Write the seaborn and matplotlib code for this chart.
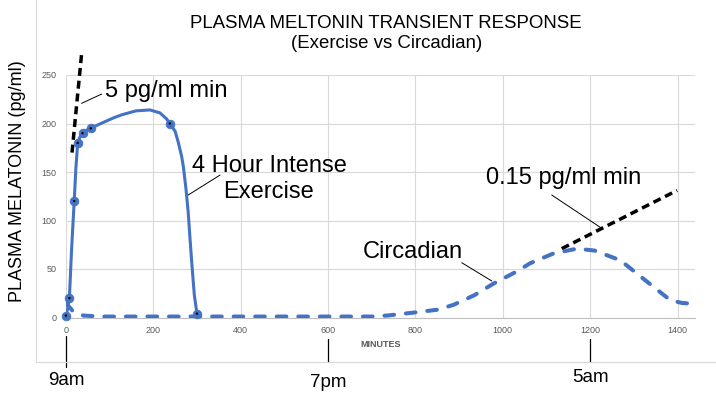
import matplotlib
matplotlib.use("Agg")
import matplotlib.pyplot as plt
import seaborn as sns
import pandas as pd
from matplotlib.lines import Line2D

# exercise response: points read along the smoothed curve, and the marked samples
ex_curve_x = [0, 4, 8, 13, 19, 23, 27, 32, 38, 47, 57, 75, 90, 110, 128, 160, 192, 215, 230, 238,
              250, 257, 265, 269, 275, 280, 284, 288, 294, 300]
ex_curve_y = [2, 9, 20, 70, 120, 155, 180, 186, 190, 193, 195, 199, 202, 206, 209, 213, 214, 211, 205, 200,
              192, 181, 166, 155, 132, 108, 82, 57, 23, 4]
ex_mark_x = [0, 8, 19, 27, 38, 57, 238, 300]
ex_mark_y = [2, 20, 120, 180, 190, 195, 200, 4]

# circadian response
circ_x = [0, 15, 40, 80, 200, 400, 600, 700, 735, 795, 850, 887, 935, 979, 1030, 1063, 1116, 1170, 1210, 1269, 1330, 1383, 1410, 1440]
circ_y = [15, 7, 2, 1, 1, 1, 1, 1, 2, 5, 8, 13, 23, 35, 47, 56, 66, 71, 69, 59, 37, 18, 15, 14]

# slope lines
fast_x = [14, 36]
fast_y = [170, 272]
slow_x = [1135, 1399]
slow_y = [71, 131]

# clock labels below the minutes axis
clock_min = [0, 600, 1200]
clock_lbl = ["9am", "7pm", "5am"]

BLUE = "#4472C4"
GRID = "#d9d9d9"
TICK = "#595959"

sns.set_style("white")
plt.rcParams["font.family"] = ["Liberation Sans", "DejaVu Sans"]
plt.rcParams["text.color"] = "black"

fig = plt.figure(figsize=(7.16, 3.96), dpi=100)
ax = fig.add_axes([65.9 / 716, 78.5 / 396, (695 - 65.9) / 716, 242.5 / 396])

ex_curve = pd.DataFrame({"min": ex_curve_x, "val": ex_curve_y})
ex_mark = pd.DataFrame({"min": ex_mark_x, "val": ex_mark_y})
circ = pd.DataFrame({"min": circ_x, "val": circ_y})

# black slope lines
sns.lineplot(x=fast_x, y=fast_y, ax=ax, color="black", lw=2.5,
             linestyle=(0, (2.3, 1.4)), clip_on=False, zorder=2)
sns.lineplot(x=slow_x, y=slow_y, ax=ax, color="black", lw=2.5,
             linestyle=(0, (2.3, 1.4)), clip_on=False, zorder=2)

# circadian dashed curve
sns.lineplot(data=circ, x="min", y="val", ax=ax, color=BLUE, lw=2.9,
             linestyle=(0, (2.4, 2.95)), dash_capstyle="round", zorder=3)

# exercise curve with markers
sns.lineplot(data=ex_curve, x="min", y="val", ax=ax, color=BLUE, lw=2.2,
             solid_capstyle="round", solid_joinstyle="round", zorder=4)
sns.scatterplot(data=ex_mark, x="min", y="val", ax=ax, color=BLUE, s=40,
                edgecolor=BLUE, zorder=5, clip_on=False)
sns.scatterplot(data=ex_mark, x="min", y="val", ax=ax, color="black", s=3,
                edgecolor="none", zorder=6, clip_on=False)

ax.set_xlim(0, 1440)
ax.set_ylim(0, 250)
ax.set_xticks(range(0, 1401, 200))
ax.set_yticks(range(0, 251, 50))
ax.tick_params(length=0, labelsize=6.5, colors=TICK)
ax.tick_params(axis="y", pad=6.6)
ax.tick_params(axis="x", pad=6.3)
ax.grid(True, color=GRID, lw=0.8)
for s in ["top", "right", "left"]:
    ax.spines[s].set_visible(False)
ax.spines["bottom"].set_color("#bfbfbf")
ax.spines["bottom"].set_linewidth(0.8)
ax.set_ylabel("")
ax.set_xlabel("MINUTES", fontsize=6.5, color=TICK, fontweight="bold", labelpad=3.5)

# clock ticks and labels
xt = ax.get_xaxis_transform()
tick_top = [-0.0763, -0.0887, -0.0887]
tick_bot = [-0.204, -0.1835, -0.1835]
lbl_y = [-0.258, -0.266, -0.249]
for m, lab, t0, t1, ly in zip(clock_min, clock_lbl, tick_top, tick_bot, lbl_y):
    ax.plot([m, m], [t0, t1], transform=xt, color="black", lw=0.9, clip_on=False)
    ax.text(m, ly, lab, transform=xt, ha="center", va="center", fontsize=13.5)

# annotations
ann = dict(fontsize=17, clip_on=False)
ax.text(89.5, 227.3, "5 pg/ml min", ha="left", va="baseline", **ann)
ax.plot([36, 82], [220.8, 230.4], color="black", lw=0.7, clip_on=False)
ax.text(465, 150.3, "4 Hour Intense", ha="center", va="baseline", **ann)
ax.text(463, 123.2, "Exercise", ha="center", va="baseline", **ann)
ax.plot([280, 353], [126.3, 146.9], color="black", lw=0.7)
ax.text(793, 61, "Circadian", ha="center", va="baseline", **ann)
ax.plot([906, 975], [56.5, 37.6], color="black", lw=0.7)
ax.text(1140, 137.3, "0.15 pg/ml min", ha="center", va="baseline", **ann)
ax.plot([1112, 1223], [126.3, 93], color="black", lw=0.7)

# titles and y label
fig.text(386 / 716, (396 - 28.3) / 396, "PLASMA MELTONIN TRANSIENT RESPONSE",
         ha="center", va="baseline", fontsize=13.4)
fig.text(387 / 716, (396 - 48.3) / 396, "(Exercise vs Circadian)",
         ha="center", va="baseline", fontsize=13.4)
fig.text(18 / 716, (396 - 181) / 396, "PLASMA MELATONIN (pg/ml)",
         rotation=90, ha="center", va="center", fontsize=13)

# outer chart frame (left and bottom)
fig.add_artist(Line2D([36 / 716, 36 / 716], [34 / 396, 1.0], color=GRID, lw=0.8))
fig.add_artist(Line2D([36 / 716, 1.0], [34 / 396, 34 / 396], color=GRID, lw=0.8))

fig.savefig("out.png", dpi=100)
